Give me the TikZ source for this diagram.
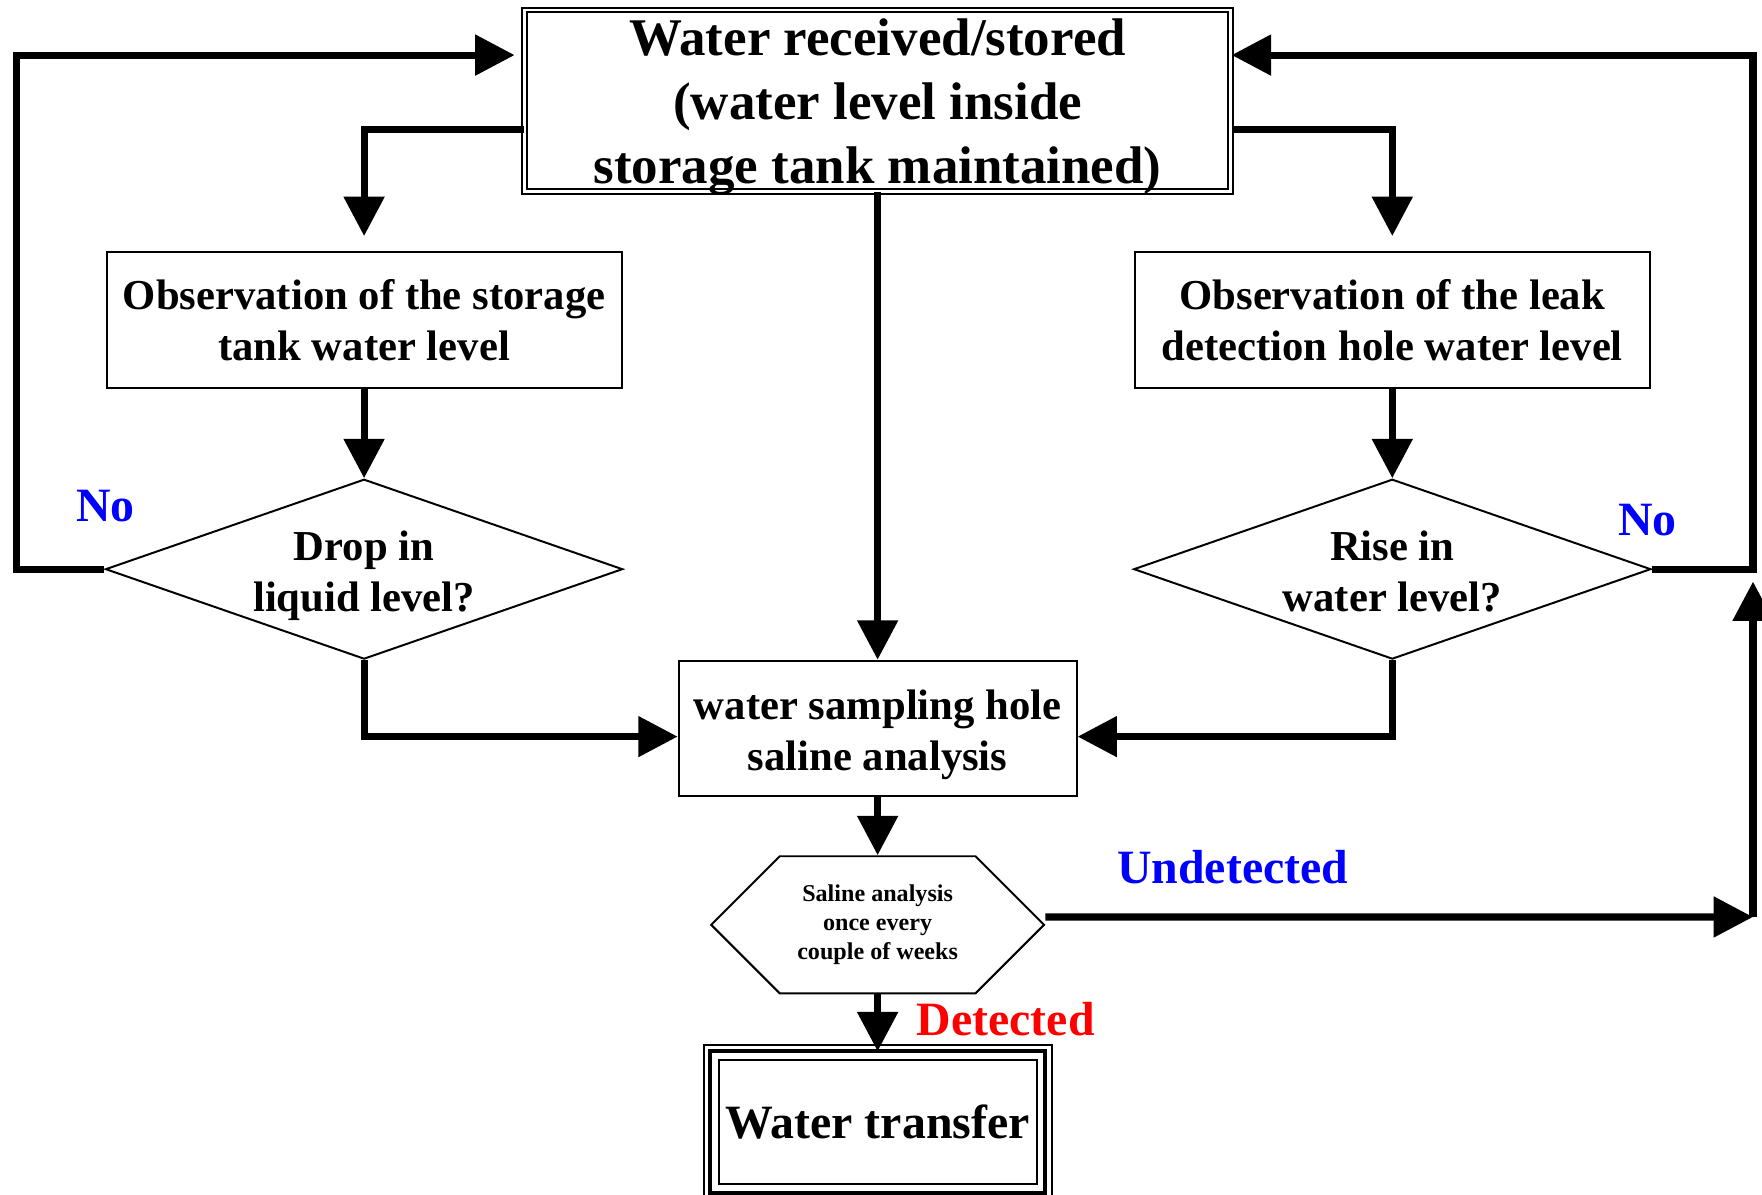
\documentclass[tikz,border=0pt]{standalone}
\usepackage{fontspec}
\setmainfont{Liberation Serif}
\usetikzlibrary{arrows.meta,shapes.geometric,shapes.symbols}

\begin{document}
\begin{tikzpicture}[x=0.01cm,y=-0.01cm,
box/.style={draw,line width=0.5pt,inner sep=0pt,align=center,font=\bfseries\fontsize{10.8}{12.9}\selectfont},
ask/.style={diamond,aspect=2.875,draw,line width=0.5pt,inner sep=0pt,align=center,minimum width=4.6cm,minimum height=1.6cm,font=\bfseries\fontsize{10.8}{12.9}\selectfont},
flow/.style={line width=1.8pt,-{Triangle[length=0.35cm,width=0.35cm]}},
lab/.style={font=\bfseries\fontsize{12.1}{14}\selectfont}]
\useasboundingbox (0,0) rectangle (1568,1063);

\node[box,double,double distance=0.7pt,minimum width=6.28cm,minimum height=1.61cm,inner ysep=-1pt,font=\bfseries\fontsize{13.4}{16.2}\selectfont] (top) at (781,89.5) {\rule{0pt}{12.5pt}Water received/stored\\(water level inside\\storage tank maintained)};
\node[box,minimum width=4.58cm,minimum height=1.21cm] (obsL) at (324,284.5) {Observation of the storage\\tank water level};
\node[box,minimum width=4.58cm,minimum height=1.21cm] (obsR) at (1239,284.5) {Observation of the leak\\detection hole water level};
\node[ask] (qL) at (324,506.5) {\rule{0pt}{10.8pt}Drop in\\liquid level?};
\node[ask] (qR) at (1239,506.5) {\rule{0pt}{8.6pt}Rise in\\water level?};
\node[box,minimum width=3.54cm,minimum height=1.2cm] (samp) at (781,648) {\rule{0pt}{10.8pt}water sampling hole\\saline analysis};
\node[signal,signal to=east and west,draw,line width=0.5pt,inner sep=0pt,align=center,minimum width=2.96cm,minimum height=1.22cm,font=\bfseries\fontsize{6.1}{7.4}\selectfont] (hex) at (781,823) {Saline analysis\\once every\\couple of weeks};
\node[box,double,double distance=3.3pt,minimum width=2.96cm,minimum height=1.24cm,font=\bfseries\fontsize{12.1}{14}\selectfont] (xfer) at (781,998.5) {Water transfer};
\draw[line width=1pt] (xfer.south west) rectangle (xfer.north east);

\node[lab,text=blue] (noL) at (94,450) {No};
\node[lab,text=blue] (noR) at (1466,463) {No};
\node[lab,text=blue] (undet) at (1097,772) {Undetected};
\node[lab,text=red] (det) at (895,907) {Detected};

\coordinate (lt) at (15,49);
\coordinate (rt) at (1560,49);
\coordinate (rm) at (1560,506.5);
\coordinate (rb) at (1560,816);

\draw[flow,shorten >=0.13cm] ([yshift=-0.26cm]top.west) -| (obsL.north);
\draw[flow,shorten >=0.13cm] ([yshift=-0.26cm]top.east) -| (obsR.north);
\draw[flow] (top.south) -- (samp.north);
\foreach \s in {L,R}
{
\draw[flow] (obs\s.south) -- (q\s.north);
}
\draw[flow] (qL.south) |- ([yshift=-0.075cm]samp.west);
\draw[flow] (qR.south) |- ([yshift=-0.075cm]samp.east);
\draw[flow,shorten >=0.08cm] (qL.west) -| (lt) -- (lt -| top.west);
\draw[flow] (qR.east) -- (rm) -- (rt) -- (rt -| top.east);
\draw[flow] (samp.south) -- (hex.north);
\draw[flow] ([yshift=0.07cm]hex.east) -- (rb);
\draw[flow,shorten >=0.11cm] (rb) -- (rm);
\draw[flow] (hex.south) -- (xfer.north);
\end{tikzpicture}
\end{document}
